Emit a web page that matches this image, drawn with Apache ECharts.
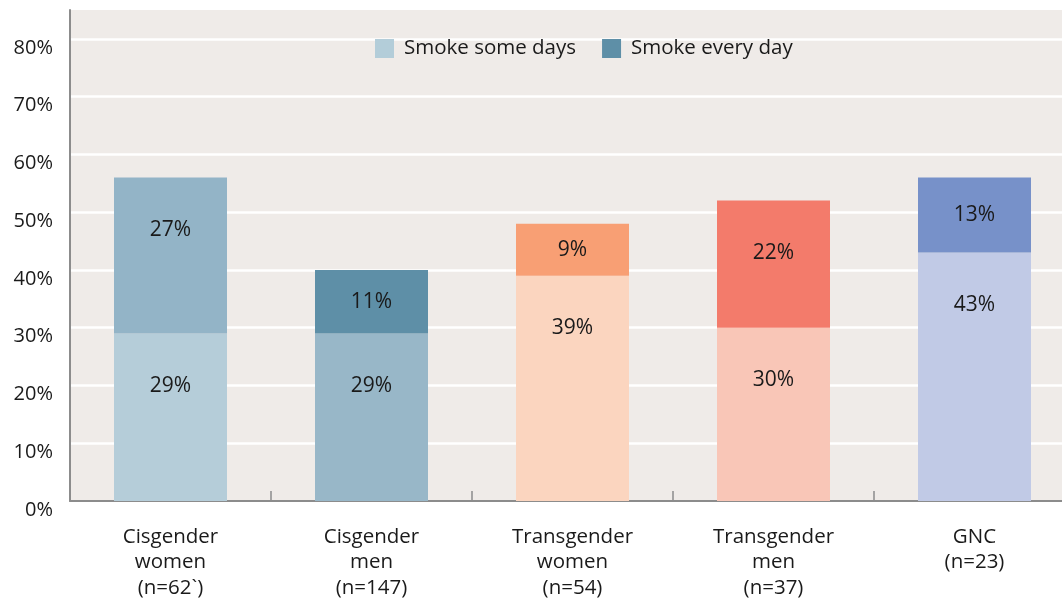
<!DOCTYPE html>
<html>
<head>
<meta charset="utf-8">
<style>
  html, body { margin: 0; padding: 0; background: #ffffff; }
  #chart { width: 1062px; height: 599px; }
</style>
<script src="https://cdn.jsdelivr.net/npm/echarts@6/dist/echarts.min.js"></script>
</head>
<body>
<div id="chart"></div>
<script>
// Share of each group who smoke, split by frequency (percent)
const categories = [
  'Cisgender\nwomen\n(n=62`)',
  'Cisgender\nmen\n(n=147)',
  'Transgender\nwomen\n(n=54)',
  'Transgender\nmen\n(n=37)',
  'GNC\n(n=23)'
];
const someDays = [29, 29, 39, 30, 43];
const everyDay = [27, 11, 9, 22, 13];
const yTicks = [0, 10, 20, 30, 40, 50, 60, 70, 80];

// Per-group colours: lighter shade for "some days", deeper for "every day"
const someDaysColors = ['#b5cdd9', '#98b7c8', '#fbd5bf', '#f9c6b7', '#c1cae6'];
const everyDayColors = ['#93b4c7', '#5e8fa7', '#f89f74', '#f37b6b', '#7791c9'];

const FONT = 'Open Sans';
const Y_MAX = 85;
const PLOT_H = 491;
const pxPerUnit = PLOT_H / Y_MAX;

// Tall segments carry their label near the top; short ones centre it
function withLabels(values) {
  return values.map(v => {
    const h = v * pxPerUnit;
    const label = h > 104
      ? { position: 'insideTop', distance: 42 }
      : { position: 'inside' };
    return { value: v, label: label };
  });
}

const labelStyle = {
  show: true,
  formatter: '{c}%',
  color: '#1a1a1a',
  fontSize: 21,
  fontFamily: FONT
};

const chart = echarts.init(document.getElementById('chart'), null, { renderer: 'canvas' });

chart.setOption({
  animation: false,
  textStyle: { fontFamily: FONT, color: '#1a1a1a' },
  grid: {
    left: 70,
    top: 10,
    width: 1005,
    height: PLOT_H,
    show: true,
    backgroundColor: '#efebe8',
    borderWidth: 0,
    containLabel: false,
    outerBoundsMode: 'none'
  },
  legend: {
    left: 375,
    top: 38,
    padding: 0,
    icon: 'rect',
    itemWidth: 19,
    itemHeight: 19,
    itemGap: 26,
    textStyle: { fontSize: 20.5, color: '#1a1a1a', fontFamily: FONT, padding: [0, 0, 0, 5] },
    data: [
      { name: 'Smoke some days', itemStyle: { color: '#b3cdd9' } },
      { name: 'Smoke every day', itemStyle: { color: '#5e8fa7' } }
    ]
  },
  xAxis: {
    type: 'category',
    data: categories,
    axisLine: { show: true, lineStyle: { color: '#8c8c8c', width: 2 } },
    axisTick: { show: true, inside: true, length: 10, lineStyle: { color: '#8c8c8c', width: 1.5 } },
    axisLabel: {
      fontSize: 20.5,
      lineHeight: 25.5,
      color: '#1a1a1a',
      fontFamily: FONT,
      margin: 23,
      interval: 0
    },
    splitLine: { show: false }
  },
  yAxis: {
    type: 'value',
    min: 0,
    max: Y_MAX,
    interval: 10,
    axisLine: { show: true, lineStyle: { color: '#8c8c8c', width: 2 } },
    axisTick: { show: false },
    axisLabel: {
      fontSize: 20,
      color: '#1a1a1a',
      fontFamily: FONT,
      margin: 17,
      verticalAlign: 'top',
      lineHeight: 18,
      formatter: v => (yTicks.indexOf(v) >= 0 ? v + '%' : '')
    },
    splitLine: {
      show: true,
      showMinLine: false,
      showMaxLine: false,
      lineStyle: { color: '#ffffff', width: 2.5 }
    }
  },
  series: [
    {
      name: 'Smoke some days',
      type: 'bar',
      stack: 'smoke',
      barWidth: 113,
      itemStyle: { color: p => someDaysColors[p.dataIndex] },
      label: labelStyle,
      data: withLabels(someDays)
    },
    {
      name: 'Smoke every day',
      type: 'bar',
      stack: 'smoke',
      barWidth: 113,
      itemStyle: { color: p => everyDayColors[p.dataIndex] },
      label: labelStyle,
      data: withLabels(everyDay)
    }
  ]
});
</script>
</body>
</html>
